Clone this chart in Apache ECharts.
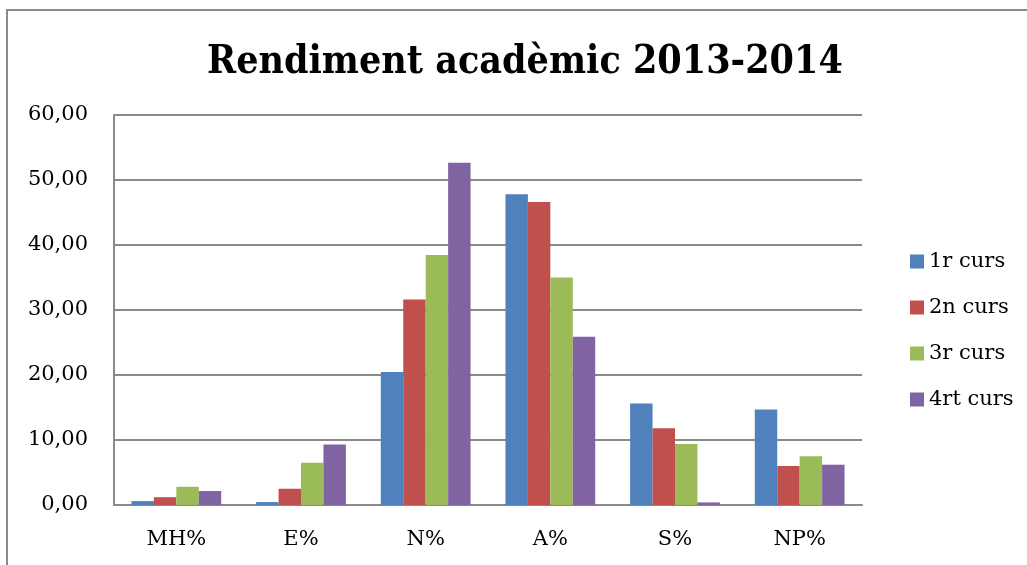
<!DOCTYPE html>
<html>
<head>
<meta charset="utf-8">
<script src="https://cdn.jsdelivr.net/npm/echarts@6/dist/echarts.min.js"></script>
<style>
html,body{margin:0;padding:0;background:#fff;overflow:hidden;}
#frame{position:absolute;left:6px;top:9px;width:1100px;height:600px;border:2px solid #8a8a8a;box-sizing:border-box;}
#chart{position:absolute;left:0;top:0;width:1027px;height:565px;}
</style>
</head>
<body>
<div id="frame"></div>
<div id="chart"></div>
<script>
const titleText = "Rendiment acadèmic 2013-2014";
const categories = ["MH%", "E%", "N%", "A%", "S%", "NP%"];
const seriesNames = ["1r curs", "2n curs", "3r curs", "4rt curs"];
const curs1 = [0.6, 0.45, 20.45, 47.8, 15.6, 14.7];
const curs2 = [1.2, 2.5, 31.6, 46.6, 11.8, 6.0];
const curs3 = [2.8, 6.5, 38.45, 35.0, 9.4, 7.5];
const curs4 = [2.15, 9.3, 52.65, 25.9, 0.4, 6.2];
const colors = ["#4F81BD", "#C0504D", "#9BBB59", "#8064A2"];

const chart = echarts.init(document.getElementById('chart'));
const allData = [curs1, curs2, curs3, curs4];
chart.setOption({
  animation: false,
  title: {
    text: titleText, left: 202, top: 38,
    textStyle: {fontFamily: 'DejaVu Serif Condensed', fontWeight: 'bold', fontSize: 39, color: '#000'}
  },
  legend: {
    orient: 'vertical', left: 905, top: 246,
    itemWidth: 14, itemHeight: 14, itemGap: 25, icon: 'rect',
    textStyle: {fontFamily: 'DejaVu Serif', fontSize: 21, color: '#000'},
    data: seriesNames
  },
  grid: {left: 114, right: 165, top: 115, bottom: 60},
  xAxis: {
    type: 'category', data: categories,
    axisLine: {lineStyle: {color: '#8a8a8a', width: 2}},
    axisTick: {show: false},
    axisLabel: {fontFamily: 'DejaVu Serif', fontSize: 21, color: '#000', margin: 24}
  },
  yAxis: {
    type: 'value', min: 0, max: 60, interval: 10,
    axisLine: {show: true, lineStyle: {color: '#8a8a8a', width: 2}},
    axisTick: {show: false},
    splitLine: {lineStyle: {color: '#8a8a8a', width: 2}},
    axisLabel: {fontFamily: 'DejaVu Serif', fontSize: 21, color: '#000', margin: 26,
      formatter: v => v.toFixed(2).replace('.', ',')}
  },
  series: seriesNames.map((n, i) => ({
    name: n, type: 'bar', data: allData[i],
    barGap: '0%', barCategoryGap: '28%',
    itemStyle: {color: colors[i]}
  }))
});
</script>
</body>
</html>
